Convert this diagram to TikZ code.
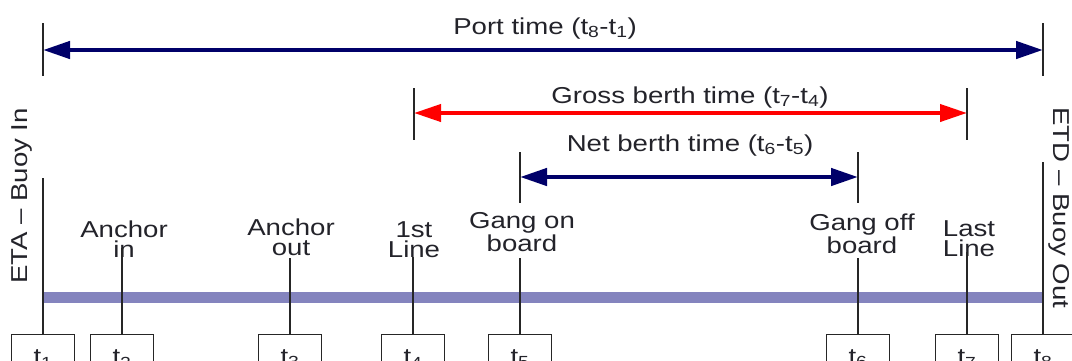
\documentclass[tikz,border=0pt]{standalone}
\usepackage{fontspec}
\setmainfont{Liberation Sans}[FakeStretch=1.2]
\usetikzlibrary{arrows.meta}
\definecolor{navy}{RGB}{0,0,105}
\definecolor{bandcol}{RGB}{132,132,190}
\definecolor{ink}{RGB}{35,35,42}
\begin{document}
\begin{tikzpicture}[x=1pt,y=-1pt,
  tick/.style={line width=1.4pt, draw=black!85},
  span/.style={line width=4.5pt,
    {Triangle[length=27pt,width=17pt]}-{Triangle[length=27pt,width=17pt]}},
  lbl/.style={text=ink, font=\fontsize{23}{20}\selectfont, align=center, inner sep=0pt},
  tbox/.style={draw=black!85, line width=1.4pt, minimum width=63pt, minimum height=48pt,
    inner sep=0pt, text=ink, font=\fontsize{23}{20}\selectfont, anchor=north},
]
\useasboundingbox (0,0) rectangle (1072,360);
\clip (0,0) rectangle (1072,360);

% timeline band
\coordinate (bandL) at (43,297);
\coordinate (bandR) at (1043,297);
\draw[bandcol, line width=11pt] (bandL) -- (bandR);

% event boxes
\node[tbox] (t1) at (43,334)   {t\textsubscript{1}};
\node[tbox] (t2) at (122,334)  {t\textsubscript{2}};
\node[tbox] (t3) at (290,334)  {t\textsubscript{3}};
\node[tbox] (t4) at (413,334)  {t\textsubscript{4}};
\node[tbox] (t5) at (520,334)  {t\textsubscript{5}};
\node[tbox] (t6) at (858,334)  {t\textsubscript{6}};
\node[tbox] (t7) at (967,334)  {t\textsubscript{7}};
\node[tbox] (t8) at (1043,334) {t\textsubscript{8}};

% event labels (base anchor sits on the second line)
\node[lbl, anchor=base] (ancin)  at (124,257) {Anchor\\in};
\node[lbl, anchor=base] (ancout) at (291,255) {Anchor\\out};
\node[lbl, anchor=base] (first)  at (414,257) {1st\\Line};
\node[lbl, anchor=base] (gon)    at (522,251) {Gang on\\board};
\node[lbl, anchor=base] (goff)   at (862,253) {Gang off\\board};
\node[lbl, anchor=base] (last)   at (969,256) {Last\\Line};
\node[lbl, rotate=90]  (eta) at (22,196)   {ETA – Buoy In};
\node[lbl, rotate=-90] (etd) at (1059,208) {ETD – Buoy Out};

% event markers down to the boxes
\coordinate (m1) at (43,178);
\coordinate (m2) at (122,248);
\coordinate (m3) at (290,258);
\coordinate (m4) at (413,257);
\coordinate (m5) at (520,258);
\coordinate (m6) at (858,258);
\coordinate (m7) at (967,252);
\coordinate (m8) at (1043,162);
\foreach \i in {1,...,8} \draw[tick] (m\i) -- (t\i.north);

% span ticks
\coordinate (pLa) at (43,23);   \coordinate (pLb) at (43,76);
\coordinate (pRa) at (1043,23); \coordinate (pRb) at (1043,76);
\coordinate (gLa) at (414,88);  \coordinate (gLb) at (414,140);
\coordinate (gRa) at (967,88);  \coordinate (gRb) at (967,140);
\coordinate (nLa) at (520,152); \coordinate (nLb) at (520,203);
\coordinate (nRa) at (858,152); \coordinate (nRb) at (858,203);
\draw[tick] (pLa) -- (pLb);
\draw[tick] (pRa) -- (pRb);
\draw[tick] (gLa) -- (gLb);
\draw[tick] (gRa) -- (gRb);
\draw[tick] (nLa) -- (nLb);
\draw[tick] (nRa) -- (nRb);

% spans
\coordinate (pL) at (43,50);   \coordinate (pR) at (1043,50);
\coordinate (gL) at (414,113); \coordinate (gR) at (967,113);
\coordinate (nL) at (520,177); \coordinate (nR) at (858,177);
\draw[span, navy] (pL) -- (pR);
\draw[span, red, line width=4pt] (gL) -- (gR);
\draw[span, navy] (nL) -- (nR);

\node[lbl, anchor=base] (port)  at (545,34)  {Port time (t\textsubscript{8}-t\textsubscript{1})};
\node[lbl, anchor=base] (gross) at (690,103) {Gross berth time (t\textsubscript{7}-t\textsubscript{4})};
\node[lbl, anchor=base] (net)   at (690,151) {Net berth time (t\textsubscript{6}-t\textsubscript{5})};
\end{tikzpicture}
\end{document}
